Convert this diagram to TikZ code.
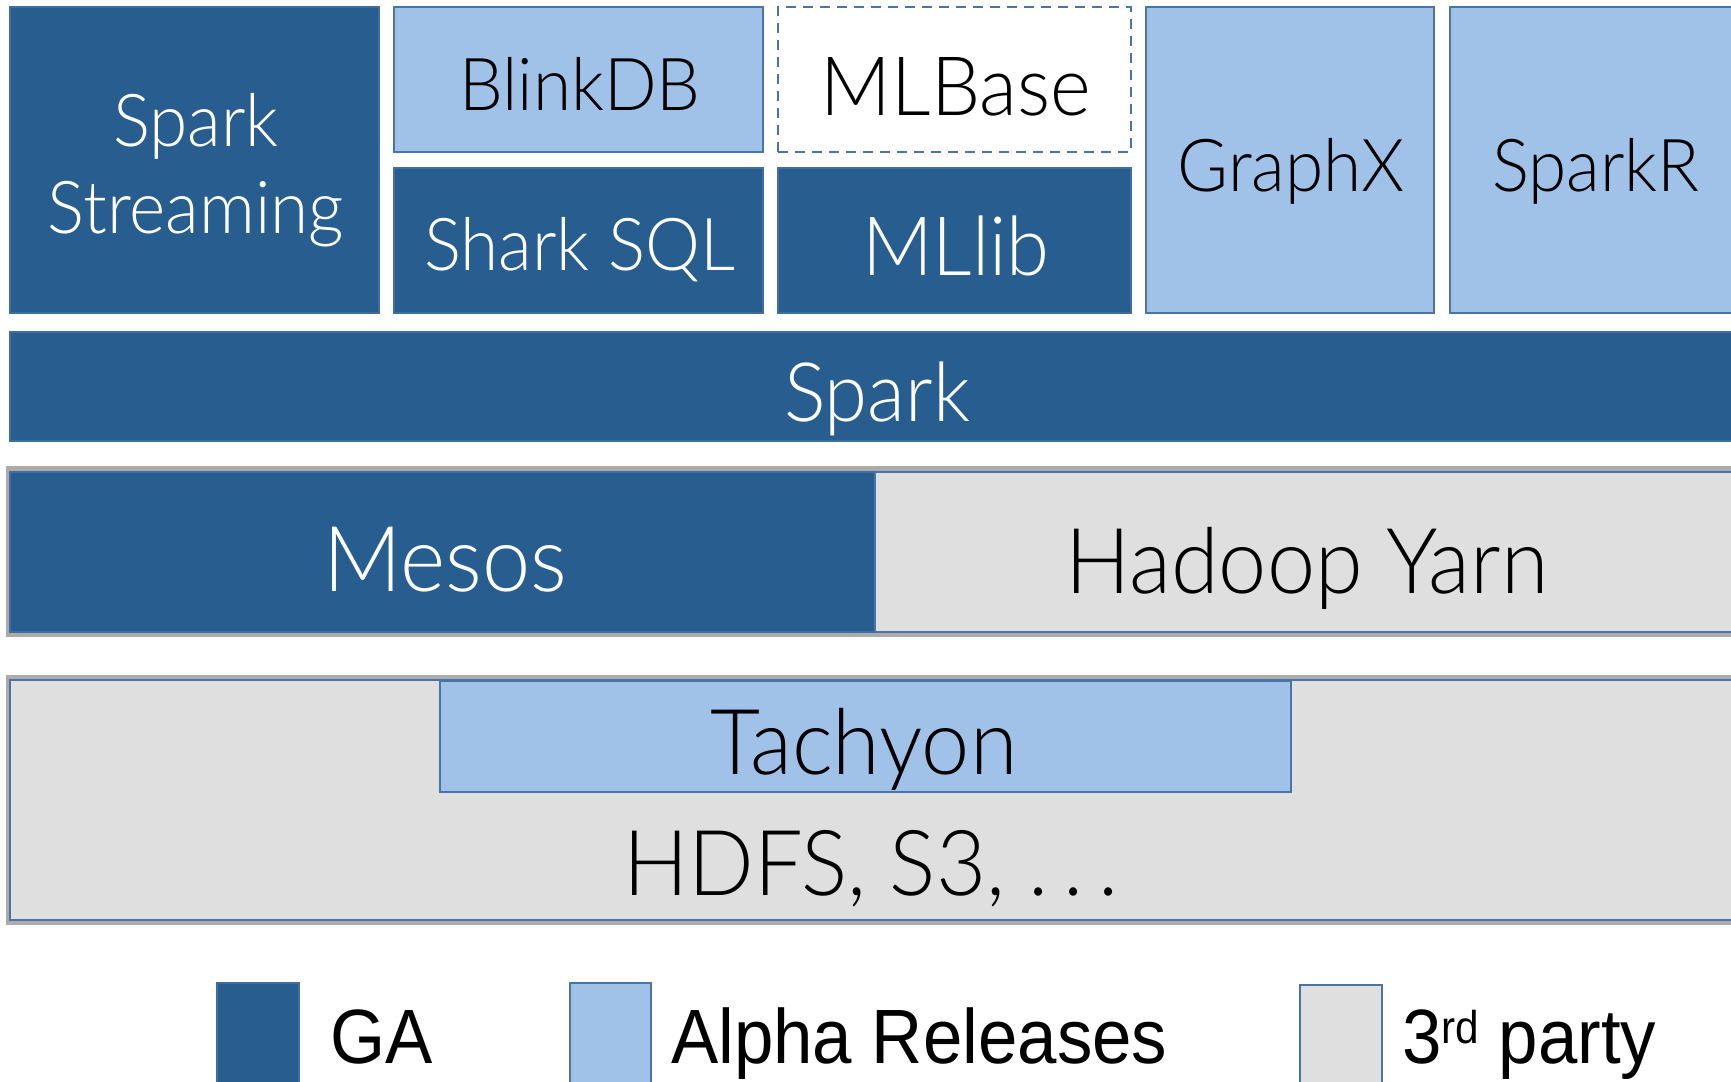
\documentclass[tikz,border=0pt]{standalone}
\usepackage{fontspec}
\setmainfont{Lato Light}[FakeStretch=0.95]
\newfontfamily\legendfont[FakeStretch=0.92]{Liberation Sans}
\definecolor{gafill}{HTML}{285D8F}
\definecolor{gaedge}{HTML}{3F6E9F}
\definecolor{alfill}{HTML}{A0C2E8}
\definecolor{aledge}{HTML}{4A74A6}
\definecolor{tpfill}{HTML}{DFDFDF}
\definecolor{outergray}{HTML}{ABABAB}
\begin{document}
\begin{tikzpicture}[x=1pt,y=-1pt,
  box/.style={rectangle,inner sep=0pt,outer sep=0pt,line width=2pt},
  gabox/.style={box,draw=gaedge,fill=gafill},
  albox/.style={box,draw=aledge,fill=alfill},
  tpbox/.style={box,draw=aledge,fill=tpfill},
  dashbox/.style={box,draw=aledge,fill=white,line width=2.5pt,dash pattern=on 10pt off 7pt},
  outerbox/.style={box,draw=outergray,line width=5pt},
  wtxt/.style={anchor=base,text=white,inner sep=0pt},
  btxt/.style={anchor=base,text=black,inner sep=0pt},
  ltxt/.style={anchor=base west,text=black,inner sep=0pt,font=\legendfont\fontsize{77pt}{90pt}\selectfont},
  sz72/.style={font=\fontsize{73pt}{87pt}\selectfont},
  sz80/.style={font=\fontsize{82pt}{96pt}\selectfont},
  sz90/.style={font=\fontsize{91pt}{105pt}\selectfont}
]
\useasboundingbox (0,0) rectangle (1731,1081);
\clip (0,0) rectangle (1731,1081);
\fill[white] (0,0) rectangle (1731,1081);

% top row
\node[gabox,minimum width=369pt,minimum height=306pt] (stream) at (194.5,160) {};
\node[wtxt,sz72] (streamt1) at (196,146) {Spark};
\node[wtxt,sz72] (streamt2) at (196,233) {Streaming};

\node[albox,minimum width=369pt,minimum height=145pt] (blink) at (578.5,79.5) {};
\node[btxt,sz72] (blinkt) at (580,110) {BlinkDB};

\node[gabox,minimum width=369pt,minimum height=145pt] (shark) at (578.5,240.5) {};
\node[wtxt,sz72] (sharkt) at (580,270) {Shark SQL};

\node[dashbox,minimum width=353pt,minimum height=145pt] (mlbase) at (954.5,79.5) {};
\node[btxt,sz80] (mlbaset) at (956,115) {MLBase};

\node[gabox,minimum width=353pt,minimum height=145pt] (mllib) at (954.5,240.5) {};
\node[wtxt,sz80] (mllibt) at (956,275) {MLlib};

\node[albox,minimum width=288pt,minimum height=306pt] (graphx) at (1290,160) {};
\node[btxt,sz72] (graphxt) at (1291,191) {GraphX};

\node[albox,minimum width=320pt,minimum height=306pt] (sparkr) at (1610,160) {};
\node[btxt,sz72] (sparkrt) at (1596,191) {SparkR};

% Spark
\node[gabox,minimum width=1750pt,minimum height=109pt] (spark) at (885,386.5) {};
\node[wtxt,sz80] (sparkt) at (877,421) {Spark};

% resource managers
\node[outerbox,minimum width=1760pt,minimum height=166pt] (rmout) at (888,551.5) {};
\node[gabox,minimum width=865pt,minimum height=160pt] (mesos) at (442.5,552) {};
\node[wtxt,sz90] (mesost) at (445,591) {Mesos};
\node[tpbox,minimum width=870pt,minimum height=160pt] (yarn) at (1310,552) {};
\node[btxt,sz90] (yarnt) at (1307,593) {Hadoop Yarn};

% storage
\node[outerbox,minimum width=1760pt,minimum height=245pt] (stout) at (888,800) {};
\node[tpbox,minimum width=1740pt,minimum height=240pt] (hdfs) at (880,800) {};
\node[btxt,sz90] (hdfst) at (871,895) {HDFS, S3, .\hspace{0.16em}.\hspace{0.16em}.};
\node[albox,minimum width=851pt,minimum height=111pt] (tachyon) at (865.5,736.5) {};
\node[btxt,sz90] (tachyont) at (864,774) {Tachyon};

% legend
\node[gabox,minimum width=82pt,minimum height=120pt] (lga) at (258,1043) {};
\node[ltxt] (lgat) at (330,1063) {GA};
\node[albox,minimum width=81pt,minimum height=120pt] (lal) at (610.5,1043) {};
\node[ltxt] (lalt) at (671,1063) {Alpha Releases};
\node[tpbox,minimum width=82pt,minimum height=120pt] (ltp) at (1341,1045) {};
\node[ltxt] (ltpt) at (1402,1063) {3\raisebox{20pt}{\fontsize{46pt}{50pt}\selectfont rd} party};
\end{tikzpicture}
\end{document}
